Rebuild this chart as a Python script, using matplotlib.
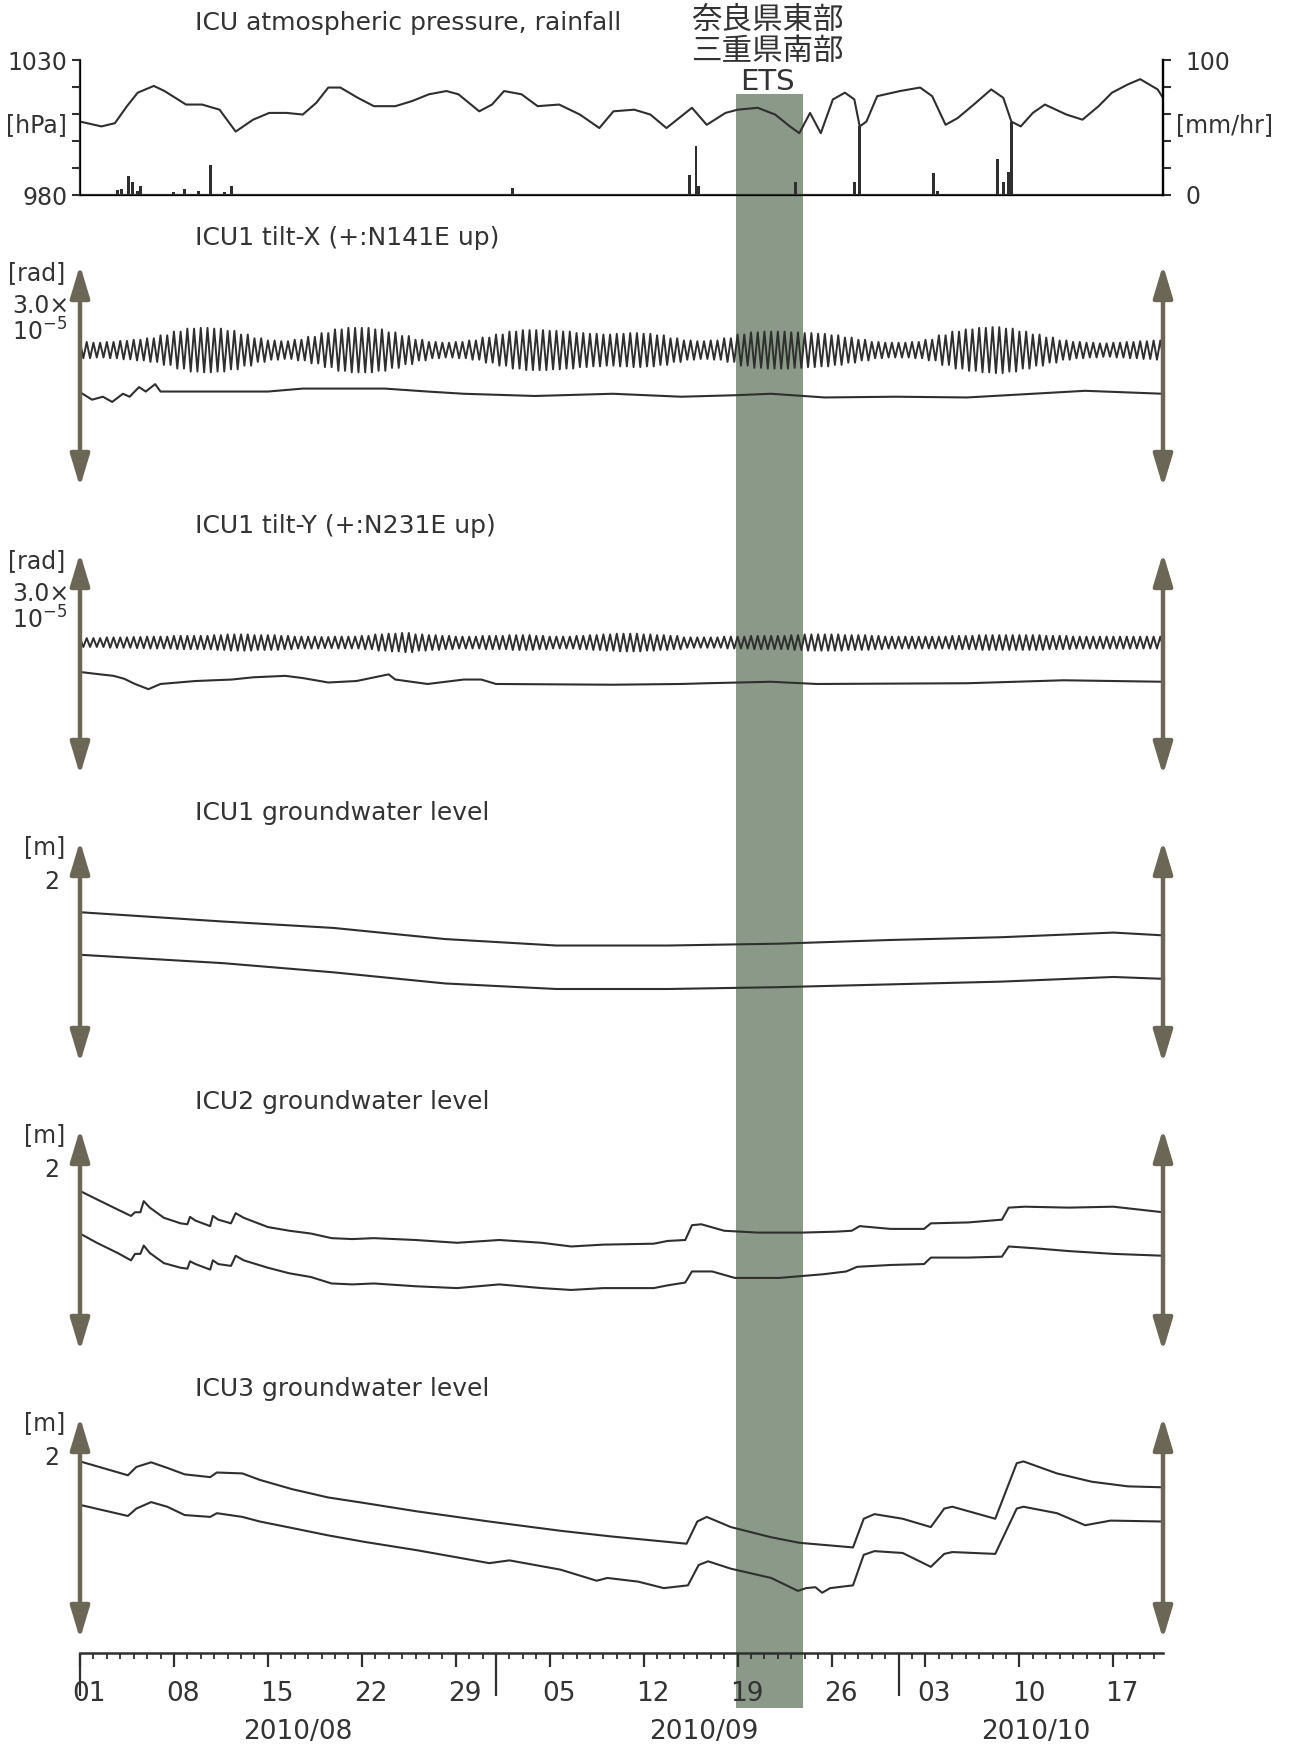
import matplotlib
matplotlib.use("Agg")
import matplotlib.pyplot as plt
import matplotlib.transforms as mtransforms
import numpy as np

# ---- data (days since 2010-08-01) ----
DAY_MAX = 80.7
ETS_SPAN = [48.9, 53.9]

P_DAY = [0, 1.6, 2.6, 3.5, 4.3, 5.5, 6.3, 7.9, 9.1, 10.4, 11.6, 12.9, 14.1, 15.4, 16.6,
         17.6, 18.5, 19.4, 20.7, 21.9, 23.5, 24.75, 26, 27.3, 28.2, 29.75, 30.7, 31.6, 32.9,
         34.1, 35.7, 37.25, 38.7, 39.75, 41.3, 42.5, 43.7, 45.6, 46.7, 48.1, 49, 50.5, 51.8,
         52.9, 53.6, 54.4, 55.2, 56.1, 57, 57.7, 58.1, 58.6, 59.4, 61.1, 62.6, 63.5, 64.5,
         65.4, 66.6, 67.9, 68.8, 69.4, 70.1, 71, 71.9, 73.5, 74.7, 75.9, 76.9, 78.1, 79,
         80.3, 80.7]
P_HPA = [1007.2, 1005.4, 1006.6, 1012.9, 1017.9, 1020.4, 1018.5, 1013.5, 1013.5, 1011.6,
         1003.5, 1007.9, 1010.4, 1010.4, 1009.8, 1014.1, 1019.8, 1019.8, 1016.0, 1012.9,
         1012.9, 1014.8, 1017.3, 1018.5, 1017.3, 1011.0, 1013.5, 1018.5, 1017.3, 1012.9,
         1013.5, 1009.8, 1004.8, 1011.0, 1011.6, 1009.8, 1004.8, 1012.3, 1006.0, 1010.4,
         1011.6, 1012.3, 1009.8, 1005.4, 1002.9, 1010.4, 1002.9, 1015.4, 1017.9, 1015.4,
         1005.4, 1007.2, 1016.6, 1018.5, 1019.8, 1016.6, 1006.0, 1008.5, 1013.5, 1019.1,
         1016.0, 1007.2, 1005.4, 1010.4, 1013.5, 1009.8, 1007.9, 1012.9, 1017.9, 1021.0,
         1022.9, 1019.1, 1016.0]

R_DAY = [2.8, 3.1, 3.6, 3.9, 4.3, 4.5, 7.0, 7.8, 8.8, 9.7, 10.8, 11.3, 32.2, 37.5, 45.4,
         45.9, 46.1, 53.3, 54.5, 57.7, 58.1, 60.6, 63.6, 63.9, 68.4, 68.8, 69.2, 69.4, 80.4]
R_MM = [4, 4.5, 14, 9.5, 3, 6.5, 2, 4.5, 3, 22, 2, 6.5, 5, 1, 14.5,
        36, 7, 10, 1, 10, 51, 1, 16, 3, 26.5, 9.5, 17, 54, 1]

# tilt, units 1e-5 rad; daily peak-to-peak of the tidal trace
TX_CENTER = 1.85
TX_AMP = [0.22, 0.20, 0.22, 0.25, 0.28, 0.32,
          0.40, 0.50, 0.58, 0.60, 0.58, 0.52, 0.42,
          0.32, 0.26, 0.24, 0.28, 0.36,
          0.46, 0.56, 0.60, 0.60, 0.56, 0.48, 0.38,
          0.28, 0.22, 0.20, 0.22, 0.26, 0.34,
          0.42, 0.50, 0.54, 0.54, 0.52, 0.50, 0.46, 0.44, 0.42,
          0.44, 0.46, 0.44, 0.40, 0.32,
          0.26, 0.24, 0.26, 0.32,
          0.42, 0.48, 0.50, 0.50, 0.48, 0.46, 0.44, 0.40, 0.34,
          0.28, 0.22, 0.20, 0.20, 0.22, 0.28,
          0.40, 0.50, 0.56, 0.60, 0.62, 0.58, 0.50, 0.42, 0.34,
          0.26, 0.22, 0.20, 0.18, 0.20, 0.22, 0.24, 0.26]
TX_LOW_DAY = [0.1, 0.9, 1.7, 2.4, 3.2, 3.7, 4.4, 4.9, 5.6, 6.0, 14.0, 16.6, 19.3, 22.7,
              25.9, 28.6, 33.9, 39.7, 44.8, 48.8, 51.5, 55.5, 60.8, 66.1, 74.9, 80.7]
TX_LOW = [1.27, 1.18, 1.22, 1.15, 1.26, 1.22, 1.35, 1.29, 1.39, 1.29, 1.29, 1.33, 1.33,
          1.33, 1.29, 1.26, 1.23, 1.26, 1.22, 1.24, 1.26, 1.21, 1.22, 1.21, 1.30, 1.26]

TY_CENTER = 1.79
TY_AMP = [0.12, 0.12, 0.14, 0.14, 0.15, 0.16, 0.16, 0.18, 0.18, 0.18,
          0.20, 0.22, 0.22, 0.20, 0.20, 0.18, 0.16, 0.16, 0.15, 0.16,
          0.16, 0.18, 0.22, 0.24, 0.26, 0.22, 0.20, 0.18, 0.16, 0.16,
          0.18, 0.18, 0.20, 0.20, 0.18, 0.16, 0.16, 0.18, 0.20, 0.22,
          0.24, 0.24, 0.22, 0.20, 0.18, 0.14, 0.14, 0.14, 0.16, 0.16,
          0.18, 0.18, 0.18, 0.20, 0.22, 0.22, 0.22, 0.20, 0.20, 0.18,
          0.16, 0.16, 0.16, 0.16, 0.16, 0.18, 0.18, 0.20, 0.20, 0.20,
          0.20, 0.20, 0.18, 0.18, 0.16, 0.16, 0.16, 0.16, 0.16, 0.16, 0.16]
TY_LOW_DAY = [0.1, 1.5, 2.5, 3.3, 4.1, 5.1, 6.0, 8.6, 11.3, 12.9, 15.3, 16.6, 18.5, 20.6,
              23.0, 23.5, 25.9, 28.6, 29.9, 31.0, 39.7, 44.8, 46.7, 51.5, 54.9, 66.1, 73.3, 80.7]
TY_LOW = [1.39, 1.36, 1.34, 1.30, 1.23, 1.16, 1.23, 1.27, 1.29, 1.32, 1.34, 1.31, 1.25, 1.27,
          1.36, 1.29, 1.23, 1.29, 1.29, 1.23, 1.22, 1.23, 1.24, 1.26, 1.23, 1.24, 1.28, 1.26]

# groundwater, m
G1_DAY = [0, 10.6, 18.9, 27.2, 35.5, 43.8, 52.1, 60.4, 68.7, 77.0, 80.7]
G1_UP = [1.63, 1.53, 1.46, 1.34, 1.27, 1.27, 1.29, 1.33, 1.36, 1.41, 1.38]
G1_LO = [1.17, 1.08, 0.98, 0.86, 0.80, 0.80, 0.82, 0.85, 0.88, 0.93, 0.91]

G2_LEFT_DAY = [0, 1.25, 2.8, 3.8, 4.1, 4.5, 4.75, 5.2, 6.25, 7.5, 8.0, 8.2, 8.6, 9.7, 9.9,
               10.3, 11.25, 11.6, 12.2, 14.0, 15.6, 17.2, 18.75, 20.3, 21.9, 25.0, 28.1,
               31.25, 34.4, 36.6, 39.0, 42.75]
G2_UP_DAY = G2_LEFT_DAY + [43.8, 45.1, 45.6, 46.3, 48.0, 50.5, 53.8, 56.3, 57.5, 58.1, 60.4,
                           62.9, 63.4, 66.2, 68.7, 69.2, 70.4, 73.7, 77.0, 80.7]
G2_UP = [1.73, 1.64, 1.53, 1.46, 1.50, 1.50, 1.62, 1.55, 1.44, 1.38, 1.37, 1.45, 1.41, 1.35,
         1.46, 1.42, 1.38, 1.49, 1.44, 1.34, 1.30, 1.27, 1.22, 1.21, 1.22, 1.20, 1.17, 1.20,
         1.17, 1.13, 1.15, 1.16,
         1.19, 1.20, 1.36, 1.37, 1.30, 1.28, 1.28, 1.29, 1.30, 1.35, 1.32, 1.32, 1.38, 1.39,
         1.42, 1.55, 1.56, 1.55, 1.56, 1.50]
G2_LO_DAY = G2_LEFT_DAY + [43.8, 45.1, 45.6, 47.1, 48.8, 52.1, 55.4, 57.1, 57.9, 60.4, 62.9,
                           63.4, 66.2, 68.7, 69.2, 71.2, 73.7, 77.0, 80.7]
G2_LO = [1.27, 1.17, 1.06, 0.98, 1.05, 1.05, 1.14, 1.06, 0.95, 0.90, 0.89, 0.97, 0.94, 0.88,
         0.98, 0.94, 0.92, 1.03, 0.98, 0.90, 0.84, 0.80, 0.73, 0.72, 0.73, 0.70, 0.68, 0.72,
         0.68, 0.66, 0.68, 0.68,
         0.71, 0.74, 0.86, 0.86, 0.79, 0.79, 0.83, 0.86, 0.91, 0.93, 0.94, 1.01, 1.01, 1.02,
         1.13, 1.11, 1.08, 1.05, 1.03]

G3_UP_DAY = [0, 3.57, 4.2, 5.3, 6.5, 7.8, 9.7, 10.2, 12.1, 13.4, 15.8, 18.5, 21.2, 25.1,
             30.5, 35.8, 39.5, 45.2, 46.0, 46.7, 48.5, 51.5, 53.6, 57.6, 58.4, 59.2, 61.3,
             63.4, 64.4, 65.0, 68.2, 69.8, 70.3, 72.8, 75.4, 78.1, 80.7]
G3_UP = [1.92, 1.77, 1.86, 1.91, 1.85, 1.78, 1.75, 1.80, 1.79, 1.72, 1.62, 1.53, 1.47, 1.38,
         1.27, 1.17, 1.11, 1.03, 1.27, 1.32, 1.21, 1.10, 1.04, 0.99, 1.30, 1.35, 1.30, 1.21,
         1.41, 1.43, 1.30, 1.90, 1.92, 1.79, 1.70, 1.65, 1.64]
G3_LO_DAY = [0, 3.57, 4.2, 5.3, 6.5, 7.8, 9.7, 10.2, 12.1, 13.4, 15.8, 18.5, 21.2, 25.1,
             30.5, 32.0, 35.8, 38.5, 39.3, 41.6, 43.5, 45.3, 46.1, 46.8, 48.5, 51.5, 53.5,
             54.1, 54.8, 55.3, 55.9, 57.6, 58.4, 59.2, 61.3, 63.4, 64.4, 65.0, 68.2, 69.8,
             70.3, 72.8, 74.9, 76.8, 80.7]
G3_LO = [1.45, 1.33, 1.41, 1.48, 1.43, 1.34, 1.32, 1.36, 1.32, 1.27, 1.20, 1.12, 1.05, 0.96,
         0.82, 0.85, 0.75, 0.63, 0.66, 0.62, 0.55, 0.58, 0.80, 0.84, 0.76, 0.66, 0.52, 0.55,
         0.56, 0.50, 0.55, 0.58, 0.91, 0.95, 0.93, 0.78, 0.92, 0.94, 0.92, 1.41, 1.43, 1.36,
         1.23, 1.28, 1.27]

WEEK_TICKS = [0, 7, 14, 21, 28, 35, 42, 49, 56, 63, 70, 77]
WEEK_LABELS = ["01", "08", "15", "22", "29", "05", "12", "19", "26", "03", "10", "17"]
MONTH_STARTS = [0, 31, 61]
MONTH_NAMES = ["2010/08", "2010/09", "2010/10"]
MONTH_LABEL_DAY = [16.2, 46.5, 71.2]

# ---- style ----
W, H = 1300, 1746
LINE = "#2f2f2f"
TXT = "#333333"
ARROW = "#6b6655"
BAND = "#8b9a88"
FS = 17
FS_TITLE = 18
FS_DATE = 19
XL, XR = 80, 1163

plt.rcParams["font.family"] = ["DejaVu Sans"]
plt.rcParams["text.color"] = TXT


def rect(x0, y0, x1, y1):
    return [x0 / W, 1 - y1 / H, (x1 - x0) / W, (y1 - y0) / H]


def ftext(x, y, s, **kw):
    kw.setdefault("fontsize", FS)
    kw.setdefault("va", "center")
    fig.text(x / W, 1 - y / H, s, **kw)


def tidal(center, amp):
    t, v = [], []
    for d, a in enumerate(amp):
        for k in range(4):
            t.append(d + k / 4)
            v.append(center + (a / 2 if k % 2 == 0 else -a / 2))
    return np.array(t), np.array(v)


fig = plt.figure(figsize=(13, 17.46), dpi=100)

# ETS band behind everything
bg = fig.add_axes(rect(XL, 94, XR, 1708), zorder=0)
bg.set_xlim(0, DAY_MAX)
bg.axvspan(ETS_SPAN[0], ETS_SPAN[1], color=BAND, lw=0)
bg.axis("off")

# pressure / rainfall
ax0 = fig.add_axes(rect(XL, 60, XR, 195), zorder=2)
ax0.patch.set_visible(False)
ax0.plot(P_DAY, P_HPA, color=LINE, lw=1.5)
ax0.set_xlim(0, DAY_MAX)
ax0.set_ylim(980, 1030)
ax0.set_xticks([])
ax0.set_yticks(range(980, 1031, 10))
ax0.set_yticklabels(["980", "", "", "", "", "1030"])
ax0.spines["top"].set_visible(False)
for s in ["left", "bottom", "right"]:
    ax0.spines[s].set_linewidth(1.6)
    ax0.spines[s].set_color(LINE)
ax0.tick_params(axis="y", length=6, width=1.5, color=LINE, labelsize=FS, pad=3, labelcolor=TXT)

rain = ax0.twinx()
rain.bar(R_DAY, R_MM, width=0.22, color=LINE, lw=0)
rain.set_ylim(0, 100)
rain.set_yticks(range(0, 101, 20))
rain.set_yticklabels(["0", "", "", "", "", "100"])
rain.spines["top"].set_visible(False)
rain.spines["right"].set_linewidth(1.6)
rain.tick_params(axis="y", length=6, width=1.5, color=LINE, labelsize=FS, pad=10, labelcolor=TXT)
ftext(36, 125, "[hPa]", ha="center")
ftext(1225, 125, "[mm/hr]", ha="center")

# arrow panels
tops = [265, 553, 841, 1129, 1417]
panels = []
for i, top in enumerate(tops):
    ax = fig.add_axes(rect(XL, top, XR, top + 222), zorder=2)
    ax.patch.set_visible(False)
    ax.set_xlim(0, DAY_MAX)
    ax.set_ylim(0, 3.0 if i < 2 else 2.4)
    ax.axis("off")
    for xf in (0, 1):
        ax.annotate("", xy=(xf, 1), xytext=(xf, 0), xycoords="axes fraction",
                    arrowprops=dict(arrowstyle="<|-|>,head_length=1.4,head_width=0.42",
                                    mutation_scale=14, color=ARROW, lw=3.2,
                                    shrinkA=0, shrinkB=0),
                    annotation_clip=False)
    panels.append(ax)

t, v = tidal(TX_CENTER, TX_AMP)
panels[0].plot(t, v, color=LINE, lw=1.4)
panels[0].plot(TX_LOW_DAY, TX_LOW, color=LINE, lw=1.5)
t, v = tidal(TY_CENTER, TY_AMP)
panels[1].plot(t, v, color=LINE, lw=1.4)
panels[1].plot(TY_LOW_DAY, TY_LOW, color=LINE, lw=1.5)
panels[2].plot(G1_DAY, G1_UP, color=LINE, lw=1.5)
panels[2].plot(G1_DAY, G1_LO, color=LINE, lw=1.5)
panels[3].plot(G2_UP_DAY, G2_UP, color=LINE, lw=1.5)
panels[3].plot(G2_LO_DAY, G2_LO, color=LINE, lw=1.5)
panels[4].plot(G3_UP_DAY, G3_UP, color=LINE, lw=1.5)
panels[4].plot(G3_LO_DAY, G3_LO, color=LINE, lw=1.5)

# titles and unit labels
titles = ["ICU atmospheric pressure, rainfall", "ICU1 tilt-X (+:N141E up)",
          "ICU1 tilt-Y (+:N231E up)", "ICU1 groundwater level",
          "ICU2 groundwater level", "ICU3 groundwater level"]
title_y = [23, 238, 526, 813, 1102, 1389]
for s, y in zip(titles, title_y):
    ftext(195, y, s, ha="left", fontsize=FS_TITLE)
for top in tops[:2]:
    ftext(65, top + 8, "[rad]", ha="right")
    ftext(12, top + 41, "3.0\u00d7", ha="left")
    ftext(12, top + 67, "10$^{-5}$", ha="left")
for top in tops[2:]:
    ftext(65, top + 6, "[m]", ha="right")
    ftext(52, top + 41, "2", ha="center")

jp = ["Noto Sans CJK JP", "DejaVu Sans"]
ftext(767, 20, "奈良県東部", ha="center", fontsize=22, family=jp)
ftext(767, 51, "三重県南部", ha="center", fontsize=22, family=jp)
ftext(767, 82, "ETS", ha="center", fontsize=21)

# time axis
axT = fig.add_axes(rect(XL, 1652, XR, 1653), zorder=2)
axT.patch.set_visible(False)
axT.set_xlim(0, DAY_MAX)
axT.set_yticks([])
for s in ["top", "left", "right"]:
    axT.spines[s].set_visible(False)
axT.spines["bottom"].set_linewidth(1.8)
axT.spines["bottom"].set_color(LINE)
axT.set_xticks(WEEK_TICKS)
axT.set_xticklabels(WEEK_LABELS)
axT.set_xticks(range(0, 81), minor=True)
axT.tick_params(axis="x", which="major", length=10, width=1.6, color=LINE,
                labelsize=FS_DATE, pad=10, labelcolor=TXT)
axT.tick_params(axis="x", which="minor", length=4, width=1.3, color=LINE)
shift = mtransforms.ScaledTranslation(0.09, 0, fig.dpi_scale_trans)
for lab in axT.get_xticklabels():
    lab.set_transform(lab.get_transform() + shift)

sec = axT.secondary_xaxis("bottom")
sec.set_xticks(MONTH_STARTS)
sec.set_xticklabels([])
sec.tick_params(axis="x", length=31, width=1.6, color=LINE)
sec.spines["bottom"].set_visible(False)

for d, name in zip(MONTH_LABEL_DAY, MONTH_NAMES):
    axT.annotate(name, xy=(d, 0), xycoords=("data", "axes fraction"),
                 xytext=(0, -57), textcoords="offset points",
                 ha="center", va="center", fontsize=FS_DATE, color=TXT)

fig.savefig("out.png", dpi=100, facecolor="white")
